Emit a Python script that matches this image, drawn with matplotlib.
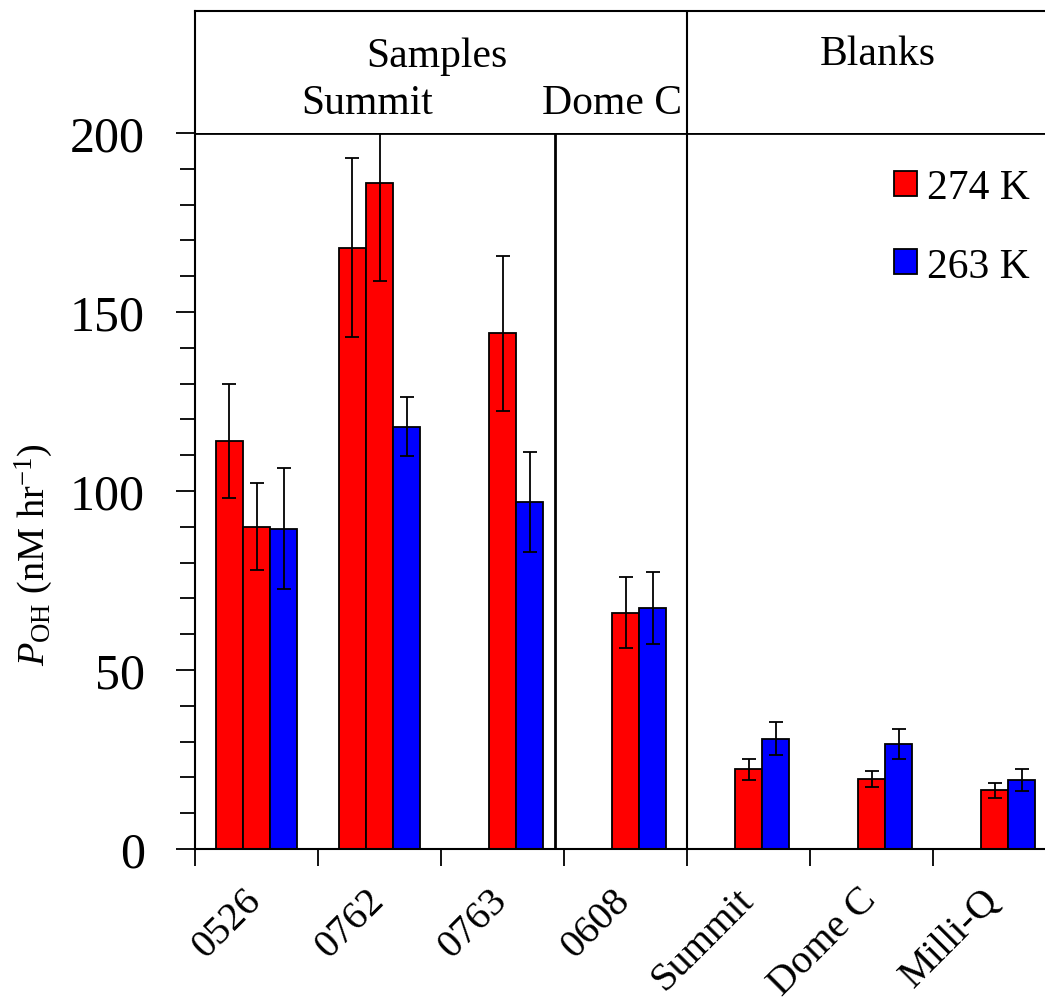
import numpy as np
import matplotlib
matplotlib.use("Agg")
import matplotlib.pyplot as plt

plt.rcParams['font.family'] = ['Liberation Serif', 'DejaVu Serif']
plt.rcParams['mathtext.fontset'] = 'custom'
plt.rcParams['mathtext.rm'] = 'Liberation Serif'
plt.rcParams['mathtext.it'] = 'Liberation Serif:italic'

# values
categories = ['0526', '0762', '0763', '0608', 'Summit', 'Dome C', 'Milli-Q']
# first 274 K replicate (only Summit samples 0526 and 0762 have it)
red_a = [114, 168, np.nan, np.nan, np.nan, np.nan, np.nan]
red_a_err = [16, 25, np.nan, np.nan, np.nan, np.nan, np.nan]
# second 274 K replicate
red_b = [90, 186, 144, 66, 22.3, 19.6, 16.4]
red_b_err = [12.2, 27.3, 21.7, 9.9, 2.9, 2.3, 2.1]
# 263 K
blue = [89.5, 118, 97, 67.3, 30.8, 29.3, 19.3]
blue_err = [17, 8.3, 14, 10, 4.6, 4.2, 3.1]

W, H = 1045, 1004
fig = plt.figure(figsize=(W / 100, H / 100), dpi=100)

x_left, x_right = 195, 1056
y_top_box, y_200, y_0 = 12, 134, 850
ax = fig.add_axes([x_left / W, (H - y_0) / H, (x_right - x_left) / W, (y_0 - y_200) / H])
hx = fig.add_axes([x_left / W, (H - y_200) / H, (x_right - x_left) / W, (y_200 - y_top_box) / H])

x = np.arange(len(categories))
bw = 0.22
err_kw = dict(ecolor='black', elinewidth=1.3, capsize=5, capthick=1.3)


def draw_series(vals, errs, offset, color, label):
    vals = np.asarray(vals, dtype=float)
    errs = np.asarray(errs, dtype=float)
    ok = ~np.isnan(vals)
    bars = ax.bar(x[ok] + offset, vals[ok], bw, color=color, edgecolor='black',
                  linewidth=1.3, label=label, zorder=2)
    ax.errorbar(x[ok] + offset, vals[ok], yerr=errs[ok], fmt='none', zorder=3, **err_kw)
    return bars


b1 = draw_series(red_a, red_a_err, -bw, '#ff0000', '274 K')
b2 = draw_series(red_b, red_b_err, 0.0, '#ff0000', None)
b3 = draw_series(blue, blue_err, bw, '#0000ff', '263 K')

ax.set_xlim(-0.5, len(categories) - 0.5)
ax.set_ylim(0, 200)

# dividers between Summit / Dome C samples and samples / blanks
ax.axvline(2.43, color='black', lw=2, zorder=4)
ax.axvline(3.5, color='black', lw=1.5, zorder=4)

for s in ['left', 'bottom']:
    ax.spines[s].set_linewidth(1.5)
ax.spines['top'].set_linewidth(2)
ax.spines['right'].set_visible(False)

ax.set_yticks([0, 50, 100, 150, 200])
ax.set_yticks(np.arange(0, 201, 10), minor=True)
ax.tick_params(axis='y', which='major', labelsize=36, length=14, width=1.3, pad=22)
ax.tick_params(axis='y', which='minor', length=11, width=1.3)

ax.set_xticks(x + 0.1)
ax.set_xticklabels(categories, rotation=45, ha='right', fontsize=29)
ax.set_xticks(np.arange(-0.5, len(categories), 1.0), minor=True)
ax.tick_params(axis='x', which='major', length=0, pad=23)
ax.tick_params(axis='x', which='minor', length=12, width=1.3)

ax.set_ylabel(r'$P_{\mathrm{OH}}$ (nM hr$^{\mathrm{-1}}$)', fontsize=27.5)
ax.yaxis.set_label_coords(-0.1626, 0.413)

ax.legend([b1, b3], ['274 K', '263 K'], loc='upper right',
          bbox_to_anchor=(1030 / W, (H - 170) / H), bbox_transform=fig.transFigure,
          frameon=False, fontsize=30, handlelength=0.55, handleheight=0.55,
          handletextpad=0.25, labelspacing=0.95, borderpad=0, borderaxespad=0)

# header box with group names
hx.set_xlim(ax.get_xlim())
hx.set_ylim(0, 1)
hx.set_xticks([])
hx.set_yticks([])
hx.spines['right'].set_visible(False)
hx.spines['bottom'].set_visible(False)
for s in ['left', 'top']:
    hx.spines[s].set_linewidth(1.5)
hx.axvline(3.5, color='black', lw=1.5)
hx.text(1.47, 0.63, 'Samples', ha='center', va='center', fontsize=30)
hx.text(0.90, 0.25, 'Summit', ha='center', va='center', fontsize=30)
hx.text(2.89, 0.25, 'Dome C', ha='center', va='center', fontsize=30)
hx.text(5.05, 0.65, 'Blanks', ha='center', va='center', fontsize=30)

fig.savefig('out.png', dpi=100)
